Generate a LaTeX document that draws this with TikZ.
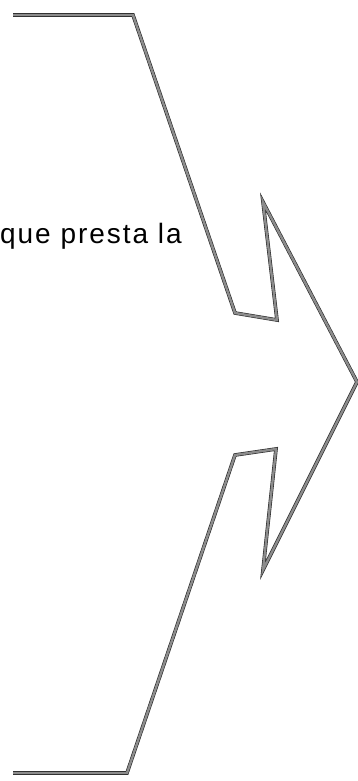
\documentclass[tikz,border=0pt]{standalone}
\usepackage{fontspec}
\setmainfont{Liberation Sans}
\newfontfamily\spaced[LetterSpace=7]{Liberation Sans}
\usepackage{tikz}

\begin{document}
\begin{tikzpicture}[x=1pt,y=-1pt]
			\tikzstyle{outline}=[draw=black!85, line width=0.6pt, double=black!45, double distance=2.4pt]
			\tikzstyle{caption}=[inner sep=0pt, anchor=base west, font=\fontsize{28}{32}\spaced]
			\useasboundingbox (0,0) rectangle (358,781);
			
			% bracket with arrow
			\coordinate (topleft) at (13,15);
			\coordinate (topbend) at (133,15);
			\coordinate (notchA) at (235,313);
			\coordinate (notchB) at (277,320);
			\coordinate (barbtop) at (263,202);
			\coordinate (tip) at (357,382);
			\coordinate (barbbot) at (263,570);
			\coordinate (notchC) at (276,449);
			\coordinate (notchD) at (235,455);
			\coordinate (botbend) at (127,773);
			\coordinate (botleft) at (13,773);
			
			\draw[outline] (topleft) -- (topbend) -- (notchA) -- (notchB) -- (barbtop) -- (tip)
				-- (barbbot) -- (notchC) -- (notchD) -- (botbend) -- (botleft);
			
			\node[caption] (text) at (0,243) {que presta la};
\end{tikzpicture}
\end{document}
